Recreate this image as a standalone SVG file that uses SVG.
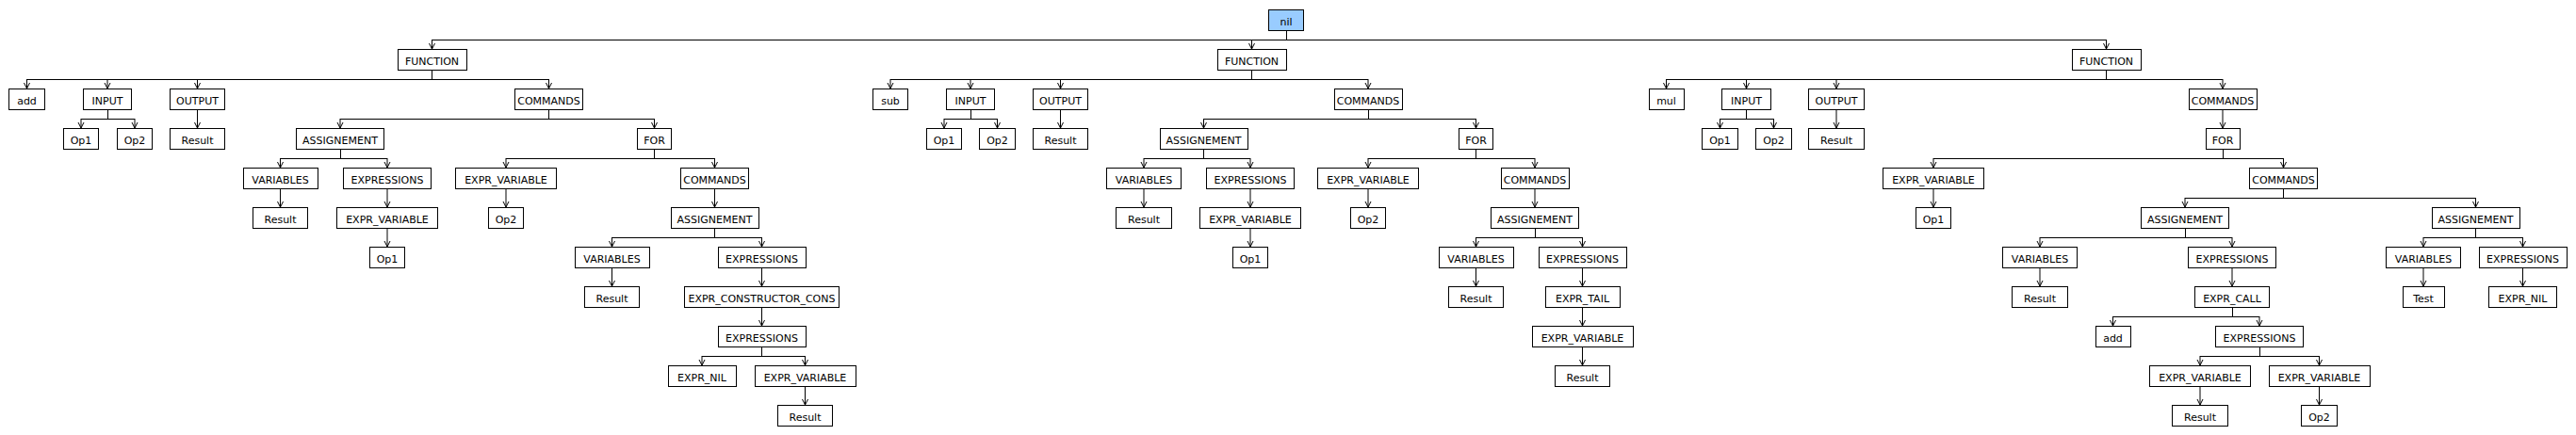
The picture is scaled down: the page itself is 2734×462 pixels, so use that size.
<svg xmlns="http://www.w3.org/2000/svg" width="2734" height="462" viewBox="0 0 2734 462">
<style>
rect{fill:#fff;stroke:#000;stroke-width:1;shape-rendering:crispEdges}
#root rect{fill:#99ccff}
text{font-family:"DejaVu Sans","Liberation Sans",sans-serif;font-size:11px;text-anchor:middle;fill:#000}
#connectors path{fill:none;stroke:#000;stroke-width:1}
#connectors path.b{shape-rendering:crispEdges}
#connectors path.a{marker-end:url(#ah)}
</style>
<defs>
<marker id="ah" markerUnits="userSpaceOnUse" markerWidth="10" markerHeight="10" viewBox="-8 -5 10 10" refX="0" refY="0" orient="auto">
<path d="M-6,-3 L0,0 L-6,3" fill="none" stroke="#000" stroke-width="1"/>
</marker>
</defs>
<rect x="0" y="0" width="2734" height="462" style="fill:#fff;stroke:none"/>
<g id="connectors">
<path class="b" d="M1365,32V42M458.5,42H2235.5"/>
<path class="a" d="M458.5,42V52"/><path class="a" d="M1328.5,42V52"/><path class="a" d="M2235.5,42V52"/>
<path class="b" d="M458.5,74V84M28.5,84H582.5"/>
<path class="a" d="M28.5,84V94"/><path class="a" d="M114,84V94"/><path class="a" d="M209.5,84V94"/><path class="a" d="M582.5,84V94"/>
<path class="b" d="M114,116V126M86,126H143"/>
<path class="a" d="M86,126V136"/><path class="a" d="M143,126V136"/>
<path class="a" d="M209.5,116V136"/>
<path class="b" d="M582.5,116V126M361,126H694.5"/>
<path class="a" d="M361,126V136"/><path class="a" d="M694.5,126V136"/>
<path class="b" d="M361,158V168M297.5,168H411"/>
<path class="a" d="M297.5,168V178"/><path class="a" d="M411,168V178"/>
<path class="b" d="M694.5,158V168M537,168H758.5"/>
<path class="a" d="M537,168V178"/><path class="a" d="M758.5,168V178"/>
<path class="a" d="M297.5,200V220"/><path class="a" d="M411,200V220"/><path class="a" d="M537,200V220"/><path class="a" d="M758.5,200V220"/>
<path class="a" d="M411,242V262"/>
<path class="b" d="M758.5,242V252M649.5,252H808.5"/>
<path class="a" d="M649.5,252V262"/><path class="a" d="M808.5,252V262"/>
<path class="a" d="M649.5,284V304"/><path class="a" d="M808.5,284V304"/>
<path class="a" d="M808.5,326V346"/>
<path class="b" d="M808.5,368V378M745,378H854.5"/>
<path class="a" d="M745,378V388"/><path class="a" d="M854.5,378V388"/>
<path class="a" d="M854.5,410V430"/>
<path class="b" d="M1328.5,74V84M945,84H1452"/>
<path class="a" d="M945,84V94"/><path class="a" d="M1030,84V94"/><path class="a" d="M1125.5,84V94"/><path class="a" d="M1452,84V94"/>
<path class="b" d="M1030,116V126M1002,126H1058.5"/>
<path class="a" d="M1002,126V136"/><path class="a" d="M1058.5,126V136"/>
<path class="a" d="M1125.5,116V136"/>
<path class="b" d="M1452,116V126M1277.5,126H1566.5"/>
<path class="a" d="M1277.5,126V136"/><path class="a" d="M1566.5,126V136"/>
<path class="b" d="M1277.5,158V168M1214,168H1327"/>
<path class="a" d="M1214,168V178"/><path class="a" d="M1327,168V178"/>
<path class="b" d="M1566.5,158V168M1452,168H1629"/>
<path class="a" d="M1452,168V178"/><path class="a" d="M1629,168V178"/>
<path class="a" d="M1214,200V220"/><path class="a" d="M1327,200V220"/><path class="a" d="M1452,200V220"/><path class="a" d="M1629,200V220"/>
<path class="a" d="M1327,242V262"/>
<path class="b" d="M1629,242V252M1566.5,252H1679.5"/>
<path class="a" d="M1566.5,252V262"/><path class="a" d="M1679.5,252V262"/>
<path class="a" d="M1566.5,284V304"/><path class="a" d="M1679.5,284V304"/>
<path class="a" d="M1679.5,326V346"/>
<path class="a" d="M1679.5,368V388"/>
<path class="b" d="M2235.5,74V84M1768.5,84H2359"/>
<path class="a" d="M1768.5,84V94"/><path class="a" d="M1853.5,84V94"/><path class="a" d="M1949,84V94"/><path class="a" d="M2359,84V94"/>
<path class="b" d="M1853.5,116V126M1825.5,126H1882.5"/>
<path class="a" d="M1825.5,126V136"/><path class="a" d="M1882.5,126V136"/>
<path class="a" d="M1949,116V136"/>
<path class="a" d="M2359,116V136"/>
<path class="b" d="M2359,158V168M2052,168H2423.5"/>
<path class="a" d="M2052,168V178"/><path class="a" d="M2423.5,168V178"/>
<path class="a" d="M2052,200V220"/>
<path class="b" d="M2423.5,200V210M2319,210H2627.5"/>
<path class="a" d="M2319,210V220"/><path class="a" d="M2627.5,210V220"/>
<path class="b" d="M2319,242V252M2165,252H2369"/>
<path class="a" d="M2165,252V262"/><path class="a" d="M2369,252V262"/>
<path class="b" d="M2627.5,242V252M2572,252H2677.5"/>
<path class="a" d="M2572,252V262"/><path class="a" d="M2677.5,252V262"/>
<path class="a" d="M2165,284V304"/><path class="a" d="M2369,284V304"/><path class="a" d="M2572,284V304"/><path class="a" d="M2677.5,284V304"/>
<path class="b" d="M2369,326V336M2242.5,336H2398"/>
<path class="a" d="M2242.5,336V346"/><path class="a" d="M2398,336V346"/>
<path class="b" d="M2398,368V378M2335,378H2461.5"/>
<path class="a" d="M2335,378V388"/><path class="a" d="M2461.5,378V388"/>
<path class="a" d="M2335,410V430"/><path class="a" d="M2461.5,410V430"/>
</g>
<g id="root"><rect x="1346.5" y="10" width="37" height="22"/><text x="1365" y="27">nil</text></g>
<g id="t1-function"><rect x="422" y="52" width="73" height="22"/><text x="458.5" y="69">FUNCTION</text></g>
<g id="t1-add"><rect x="9.5" y="94" width="38" height="22"/><text x="28.5" y="111">add</text></g>
<g id="t1-input"><rect x="88.25" y="94" width="51.5" height="22"/><text x="114" y="111">INPUT</text></g>
<g id="t1-output"><rect x="180.25" y="94" width="58.5" height="22"/><text x="209.5" y="111">OUTPUT</text></g>
<g id="t1-commands"><rect x="546.5" y="94" width="72" height="22"/><text x="582.5" y="111">COMMANDS</text></g>
<g id="t1-op1"><rect x="67.25" y="136" width="37.5" height="22"/><text x="86" y="153">Op1</text></g>
<g id="t1-op2"><rect x="124.25" y="136" width="37.5" height="22"/><text x="143" y="153">Op2</text></g>
<g id="t1-result"><rect x="180.25" y="136" width="58.5" height="22"/><text x="209.5" y="153">Result</text></g>
<g id="t1-assign1"><rect x="314.5" y="136" width="93" height="22"/><text x="361" y="153">ASSIGNEMENT</text></g>
<g id="t1-for"><rect x="676.5" y="136" width="36" height="22"/><text x="694.5" y="153">FOR</text></g>
<g id="t1-vars1"><rect x="258" y="178" width="79" height="22"/><text x="297.5" y="195">VARIABLES</text></g>
<g id="t1-exprs1"><rect x="364.5" y="178" width="93" height="22"/><text x="411" y="195">EXPRESSIONS</text></g>
<g id="t1-forvar"><rect x="483.5" y="178" width="107" height="22"/><text x="537" y="195">EXPR_VARIABLE</text></g>
<g id="t1-forcmds"><rect x="722.5" y="178" width="72" height="22"/><text x="758.5" y="195">COMMANDS</text></g>
<g id="t1-vars1-result"><rect x="268.25" y="220" width="58.5" height="22"/><text x="297.5" y="237">Result</text></g>
<g id="t1-exprvar1"><rect x="357.5" y="220" width="107" height="22"/><text x="411" y="237">EXPR_VARIABLE</text></g>
<g id="t1-forvar-op2"><rect x="518.25" y="220" width="37.5" height="22"/><text x="537" y="237">Op2</text></g>
<g id="t1-assign2"><rect x="712" y="220" width="93" height="22"/><text x="758.5" y="237">ASSIGNEMENT</text></g>
<g id="t1-exprvar1-op1"><rect x="392.25" y="262" width="37.5" height="22"/><text x="411" y="279">Op1</text></g>
<g id="t1-vars2"><rect x="610" y="262" width="79" height="22"/><text x="649.5" y="279">VARIABLES</text></g>
<g id="t1-exprs2"><rect x="762" y="262" width="93" height="22"/><text x="808.5" y="279">EXPRESSIONS</text></g>
<g id="t1-vars2-result"><rect x="620.25" y="304" width="58.5" height="22"/><text x="649.5" y="321">Result</text></g>
<g id="t1-cons"><rect x="726.5" y="304" width="164" height="22"/><text x="808.5" y="321">EXPR_CONSTRUCTOR_CONS</text></g>
<g id="t1-exprs3"><rect x="762" y="346" width="93" height="22"/><text x="808.5" y="363">EXPRESSIONS</text></g>
<g id="t1-nil"><rect x="709" y="388" width="72" height="22"/><text x="745" y="405">EXPR_NIL</text></g>
<g id="t1-exprvar2"><rect x="801" y="388" width="107" height="22"/><text x="854.5" y="405">EXPR_VARIABLE</text></g>
<g id="t1-exprvar2-result"><rect x="825.25" y="430" width="58.5" height="22"/><text x="854.5" y="447">Result</text></g>
<g id="t2-function"><rect x="1292" y="52" width="73" height="22"/><text x="1328.5" y="69">FUNCTION</text></g>
<g id="t2-sub"><rect x="926.5" y="94" width="37" height="22"/><text x="945" y="111">sub</text></g>
<g id="t2-input"><rect x="1004.25" y="94" width="51.5" height="22"/><text x="1030" y="111">INPUT</text></g>
<g id="t2-output"><rect x="1096.25" y="94" width="58.5" height="22"/><text x="1125.5" y="111">OUTPUT</text></g>
<g id="t2-commands"><rect x="1416" y="94" width="72" height="22"/><text x="1452" y="111">COMMANDS</text></g>
<g id="t2-op1"><rect x="983.25" y="136" width="37.5" height="22"/><text x="1002" y="153">Op1</text></g>
<g id="t2-op2"><rect x="1039.75" y="136" width="37.5" height="22"/><text x="1058.5" y="153">Op2</text></g>
<g id="t2-result"><rect x="1096.25" y="136" width="58.5" height="22"/><text x="1125.5" y="153">Result</text></g>
<g id="t2-assign1"><rect x="1231" y="136" width="93" height="22"/><text x="1277.5" y="153">ASSIGNEMENT</text></g>
<g id="t2-for"><rect x="1548.5" y="136" width="36" height="22"/><text x="1566.5" y="153">FOR</text></g>
<g id="t2-vars1"><rect x="1174.5" y="178" width="79" height="22"/><text x="1214" y="195">VARIABLES</text></g>
<g id="t2-exprs1"><rect x="1280.5" y="178" width="93" height="22"/><text x="1327" y="195">EXPRESSIONS</text></g>
<g id="t2-forvar"><rect x="1398.5" y="178" width="107" height="22"/><text x="1452" y="195">EXPR_VARIABLE</text></g>
<g id="t2-forcmds"><rect x="1593" y="178" width="72" height="22"/><text x="1629" y="195">COMMANDS</text></g>
<g id="t2-vars1-result"><rect x="1184.75" y="220" width="58.5" height="22"/><text x="1214" y="237">Result</text></g>
<g id="t2-exprvar1"><rect x="1273.5" y="220" width="107" height="22"/><text x="1327" y="237">EXPR_VARIABLE</text></g>
<g id="t2-forvar-op2"><rect x="1433.25" y="220" width="37.5" height="22"/><text x="1452" y="237">Op2</text></g>
<g id="t2-assign2"><rect x="1582.5" y="220" width="93" height="22"/><text x="1629" y="237">ASSIGNEMENT</text></g>
<g id="t2-exprvar1-op1"><rect x="1308.25" y="262" width="37.5" height="22"/><text x="1327" y="279">Op1</text></g>
<g id="t2-vars2"><rect x="1527" y="262" width="79" height="22"/><text x="1566.5" y="279">VARIABLES</text></g>
<g id="t2-exprs2"><rect x="1633" y="262" width="93" height="22"/><text x="1679.5" y="279">EXPRESSIONS</text></g>
<g id="t2-vars2-result"><rect x="1537.25" y="304" width="58.5" height="22"/><text x="1566.5" y="321">Result</text></g>
<g id="t2-tail"><rect x="1640" y="304" width="79" height="22"/><text x="1679.5" y="321">EXPR_TAIL</text></g>
<g id="t2-exprvar2"><rect x="1626" y="346" width="107" height="22"/><text x="1679.5" y="363">EXPR_VARIABLE</text></g>
<g id="t2-exprvar2-result"><rect x="1650.25" y="388" width="58.5" height="22"/><text x="1679.5" y="405">Result</text></g>
<g id="t3-function"><rect x="2199" y="52" width="73" height="22"/><text x="2235.5" y="69">FUNCTION</text></g>
<g id="t3-mul"><rect x="1750" y="94" width="37" height="22"/><text x="1768.5" y="111">mul</text></g>
<g id="t3-input"><rect x="1827.75" y="94" width="51.5" height="22"/><text x="1853.5" y="111">INPUT</text></g>
<g id="t3-output"><rect x="1919.75" y="94" width="58.5" height="22"/><text x="1949" y="111">OUTPUT</text></g>
<g id="t3-commands"><rect x="2323" y="94" width="72" height="22"/><text x="2359" y="111">COMMANDS</text></g>
<g id="t3-op1"><rect x="1806.75" y="136" width="37.5" height="22"/><text x="1825.5" y="153">Op1</text></g>
<g id="t3-op2"><rect x="1863.75" y="136" width="37.5" height="22"/><text x="1882.5" y="153">Op2</text></g>
<g id="t3-result"><rect x="1919.75" y="136" width="58.5" height="22"/><text x="1949" y="153">Result</text></g>
<g id="t3-for"><rect x="2341" y="136" width="36" height="22"/><text x="2359" y="153">FOR</text></g>
<g id="t3-forvar"><rect x="1998.5" y="178" width="107" height="22"/><text x="2052" y="195">EXPR_VARIABLE</text></g>
<g id="t3-forcmds"><rect x="2387.5" y="178" width="72" height="22"/><text x="2423.5" y="195">COMMANDS</text></g>
<g id="t3-forvar-op1"><rect x="2033.25" y="220" width="37.5" height="22"/><text x="2052" y="237">Op1</text></g>
<g id="t3-assign1"><rect x="2272.5" y="220" width="93" height="22"/><text x="2319" y="237">ASSIGNEMENT</text></g>
<g id="t3-assign2"><rect x="2581" y="220" width="93" height="22"/><text x="2627.5" y="237">ASSIGNEMENT</text></g>
<g id="t3-vars1"><rect x="2125.5" y="262" width="79" height="22"/><text x="2165" y="279">VARIABLES</text></g>
<g id="t3-exprs1"><rect x="2322.5" y="262" width="93" height="22"/><text x="2369" y="279">EXPRESSIONS</text></g>
<g id="t3-vars2"><rect x="2532.5" y="262" width="79" height="22"/><text x="2572" y="279">VARIABLES</text></g>
<g id="t3-exprs2"><rect x="2631" y="262" width="93" height="22"/><text x="2677.5" y="279">EXPRESSIONS</text></g>
<g id="t3-vars1-result"><rect x="2135.75" y="304" width="58.5" height="22"/><text x="2165" y="321">Result</text></g>
<g id="t3-call"><rect x="2329.5" y="304" width="79" height="22"/><text x="2369" y="321">EXPR_CALL</text></g>
<g id="t3-test"><rect x="2550" y="304" width="44" height="22"/><text x="2572" y="321">Test</text></g>
<g id="t3-nil"><rect x="2641.5" y="304" width="72" height="22"/><text x="2677.5" y="321">EXPR_NIL</text></g>
<g id="t3-call-add"><rect x="2224" y="346" width="37" height="22"/><text x="2242.5" y="363">add</text></g>
<g id="t3-exprs3"><rect x="2351.5" y="346" width="93" height="22"/><text x="2398" y="363">EXPRESSIONS</text></g>
<g id="t3-exprvar1"><rect x="2281.5" y="388" width="107" height="22"/><text x="2335" y="405">EXPR_VARIABLE</text></g>
<g id="t3-exprvar2"><rect x="2408" y="388" width="107" height="22"/><text x="2461.5" y="405">EXPR_VARIABLE</text></g>
<g id="t3-exprvar1-result"><rect x="2305.75" y="430" width="58.5" height="22"/><text x="2335" y="447">Result</text></g>
<g id="t3-exprvar2-op2"><rect x="2442.75" y="430" width="37.5" height="22"/><text x="2461.5" y="447">Op2</text></g>
</svg>
